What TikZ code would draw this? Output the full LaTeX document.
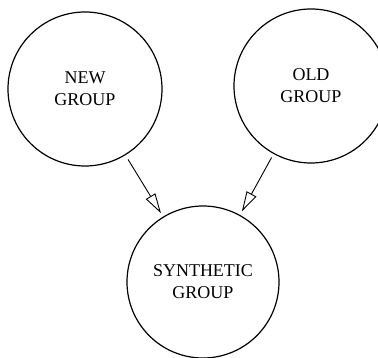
\documentclass[tikz,border=0pt]{standalone}
\usepackage{fontspec}
\setmainfont{Liberation Serif}
\usetikzlibrary{arrows.meta,positioning}

\begin{document}
\begin{tikzpicture}[x=1pt, y=-1pt,
  >={Triangle[open, length=20pt, width=11pt]},
  group/.style={circle, draw, line width=1.2pt, minimum size=154pt,
    inner sep=0pt, align=center, font=\fontsize{18}{22}\selectfont}]

  \useasboundingbox (0,0) rectangle (378,358);

  % The two source groups on top
  \node[group] (new) at (85,89) {NEW\\GROUP};
  \node[group] (old) at (311,86) {OLD\\GROUP};

  % The group they combine into
  \node[group, minimum size=152pt] (synth) at (203,282) {SYNTHETIC\\GROUP};

  % Arrows into the synthetic group
  \draw[->, line width=0.9pt, shorten <=5pt, shorten >=4pt] (new) -- (synth);
  \draw[->, line width=0.9pt, shorten <=4pt, shorten >=4pt] (old) -- (synth);

\end{tikzpicture}
\end{document}
